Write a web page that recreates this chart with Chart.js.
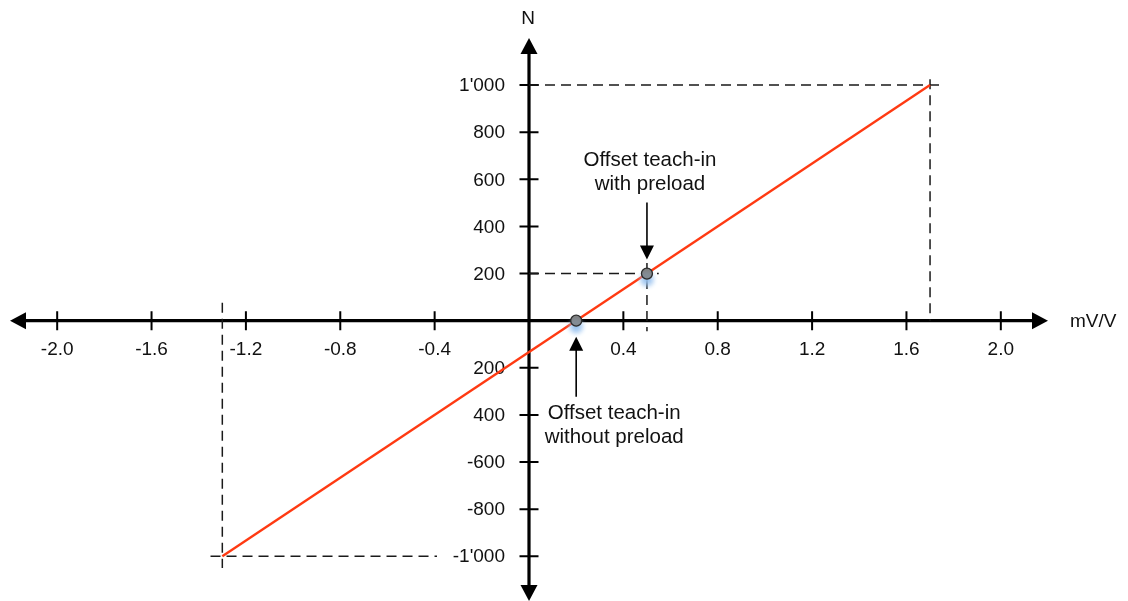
<!DOCTYPE html>
<html>
<head>
<meta charset="utf-8">
<title>Force calibration characteristic</title>
<script src="https://cdn.jsdelivr.net/npm/chart.js@4/dist/chart.umd.min.js"></script>
<style>
  html, body { margin: 0; padding: 0; background: #ffffff; overflow: hidden; }
  canvas { display: block; }
</style>
</head>
<body>
<canvas id="chart" width="1128" height="601"></canvas>
<script>
// Sensor characteristic: signal (mV/V) against force (N)
const characteristicX = [-1.3, 1.7];
const characteristicY = [-1000, 1000];

// Offset teach-in points: without preload, with preload
const teachInX = [0.2, 0.5];
const teachInY = [0, 200];

// Axis extents
const xAxisRange = [-2.2, 2.2];
const yAxisRange = [-1190, 1200];

// Tick values and their printed labels
const xTickValues = [-2.0, -1.6, -1.2, -0.8, -0.4, 0.4, 0.8, 1.2, 1.6, 2.0];
const xTickLabels = ['-2.0', '-1.6', '-1.2', '-0.8', '-0.4', '0.4', '0.8', '1.2', '1.6', '2.0'];
const yTickValues = [1000, 800, 600, 400, 200, -200, -400, -600, -800, -1000];
const yTickLabels = ["1'000", '800', '600', '400', '200', '200', '400', '-600', '-800', "-1'000"];

// Dashed reference lines (pairs of x and y)
const guideFullScalePosX = [0, 1.75];       const guideFullScalePosY = [1000, 1000];
const guideFullScalePosVX = [1.7, 1.7];     const guideFullScalePosVY = [1025, 0];
const guideFullScaleNegX = [-1.35, -0.39];  const guideFullScaleNegY = [-1000, -1000];
const guideFullScaleNegVX = [-1.3, -1.3];   const guideFullScaleNegVY = [76, -1050];
const guidePreloadX = [0, 0.55];            const guidePreloadY = [200, 200];
const guidePreloadVX = [0.5, 0.5];          const guidePreloadVY = [245, -45];

const xTitle = 'mV/V';
const yTitle = 'N';
const noteWithPreload = ['Offset teach-in', 'with preload'];
const noteWithoutPreload = ['Offset teach-in', 'without preload'];

const FONT = '"Liberation Sans", Arial, sans-serif';

function pts(xs, ys) { return xs.map((x, i) => ({ x: x, y: ys[i] })); }

function guide(xs, ys) {
  return {
    type: 'line',
    data: pts(xs, ys),
    borderColor: '#1a1a1a',
    borderWidth: 1.5,
    borderDash: [10, 6],
    pointRadius: 0,
    fill: false,
    order: 3
  };
}

function arrowHead(ctx, x, y, dir, len, half) {
  // dir: 'up' | 'down' | 'left' | 'right'; (x, y) is the tip
  ctx.beginPath();
  ctx.moveTo(x, y);
  if (dir === 'up') { ctx.lineTo(x - half, y + len); ctx.lineTo(x + half, y + len); }
  if (dir === 'down') { ctx.lineTo(x - half, y - len); ctx.lineTo(x + half, y - len); }
  if (dir === 'left') { ctx.lineTo(x + len, y - half); ctx.lineTo(x + len, y + half); }
  if (dir === 'right') { ctx.lineTo(x - len, y - half); ctx.lineTo(x - len, y + half); }
  ctx.closePath();
  ctx.fill();
}

// Cross-shaped axes through the origin, with ticks, labels and titles
const centreAxes = {
  id: 'centreAxes',
  beforeDatasetsDraw(chart) {
    const { ctx, scales: { x, y } } = chart;
    const ox = x.getPixelForValue(0);
    const oy = y.getPixelForValue(0);
    const xl = x.getPixelForValue(xAxisRange[0]);
    const xr = x.getPixelForValue(xAxisRange[1]);
    const yt = y.getPixelForValue(yAxisRange[1]);
    const yb = y.getPixelForValue(yAxisRange[0]);
    const headLen = 16, headHalf = 8.5;

    ctx.save();
    ctx.strokeStyle = '#000';
    ctx.fillStyle = '#000';
    ctx.lineWidth = 3.2;
    ctx.beginPath();
    ctx.moveTo(xl + headLen - 1, oy); ctx.lineTo(xr - headLen + 1, oy);
    ctx.moveTo(ox, yt + headLen - 1); ctx.lineTo(ox, yb - headLen + 1);
    ctx.stroke();
    arrowHead(ctx, xl, oy, 'left', headLen, headHalf);
    arrowHead(ctx, xr, oy, 'right', headLen, headHalf);
    arrowHead(ctx, ox, yt, 'up', headLen, headHalf);
    arrowHead(ctx, ox, yb, 'down', headLen, headHalf);

    // tick marks
    ctx.lineWidth = 2;
    ctx.beginPath();
    xTickValues.forEach(v => {
      const px = x.getPixelForValue(v);
      ctx.moveTo(px, oy - 9.5); ctx.lineTo(px, oy + 9.5);
    });
    yTickValues.forEach(v => {
      const py = y.getPixelForValue(v);
      ctx.moveTo(ox - 9.5, py); ctx.lineTo(ox + 9.5, py);
    });
    ctx.stroke();

    // tick labels
    ctx.fillStyle = '#111';
    ctx.font = '19px ' + FONT;
    ctx.textAlign = 'center';
    ctx.textBaseline = 'middle';
    xTickValues.forEach((v, i) => {
      ctx.fillText(xTickLabels[i], x.getPixelForValue(v), oy + 29);
    });
    ctx.textAlign = 'right';
    yTickValues.forEach((v, i) => {
      ctx.fillText(yTickLabels[i], ox - 24, y.getPixelForValue(v) + 1);
    });

    // axis titles
    ctx.textAlign = 'center';
    ctx.fillText(yTitle, ox - 1, yt - 19);
    ctx.textAlign = 'left';
    ctx.fillText(xTitle, xr + 22, oy + 1);
    ctx.restore();
  },
  afterDatasetsDraw(chart) {
    const { ctx, scales: { x, y } } = chart;
    ctx.save();
    ctx.strokeStyle = '#000';
    ctx.fillStyle = '#000';
    ctx.lineWidth = 1.6;

    // note pointing down at the teach-in point with preload
    const p1x = x.getPixelForValue(teachInX[1]);
    const p1y = y.getPixelForValue(teachInY[1]);
    ctx.beginPath();
    ctx.moveTo(p1x, p1y - 71); ctx.lineTo(p1x, p1y - 26);
    ctx.stroke();
    arrowHead(ctx, p1x, p1y - 14, 'down', 14, 7);

    // note pointing up at the teach-in point without preload
    const p0x = x.getPixelForValue(teachInX[0]);
    const p0y = y.getPixelForValue(teachInY[0]);
    ctx.beginPath();
    ctx.moveTo(p0x, p0y + 76); ctx.lineTo(p0x, p0y + 28);
    ctx.stroke();
    arrowHead(ctx, p0x, p0y + 16, 'up', 14, 7);

    ctx.fillStyle = '#111';
    ctx.font = '20.5px ' + FONT;
    ctx.textAlign = 'center';
    ctx.textBaseline = 'middle';
    ctx.fillText(noteWithPreload[0], p1x + 3, p1y - 113);
    ctx.fillText(noteWithPreload[1], p1x + 3, p1y - 89);
    ctx.fillText(noteWithoutPreload[0], p0x + 38, p0y + 93);
    ctx.fillText(noteWithoutPreload[1], p0x + 38, p0y + 117);
    ctx.restore();
  },
  beforeDatasetDraw(chart, args) {
    // soft bluish drop shadow under the teach-in markers
    if (args.meta.label === 'Offset teach-in') {
      const ctx = chart.ctx;
      ctx.save();
      ctx.shadowColor = 'rgba(150, 192, 238, 1)';
      ctx.shadowBlur = 5;
      ctx.shadowOffsetX = 0;
      ctx.shadowOffsetY = 6;
    }
  },
  afterDatasetDraw(chart, args) {
    if (args.meta.label === 'Offset teach-in') chart.ctx.restore();
  }
};

new Chart(document.getElementById('chart'), {
  type: 'scatter',
  data: {
    datasets: [
      guide(guideFullScalePosX, guideFullScalePosY),
      guide(guideFullScalePosVX, guideFullScalePosVY),
      guide(guideFullScaleNegX, guideFullScaleNegY),
      guide(guideFullScaleNegVX, guideFullScaleNegVY),
      guide(guidePreloadX, guidePreloadY),
      guide(guidePreloadVX, guidePreloadVY),
      {
        label: 'Characteristic',
        type: 'line',
        data: pts(characteristicX, characteristicY),
        borderColor: '#ff3a12',
        borderWidth: 2.4,
        pointRadius: 0,
        fill: false,
        order: 2
      },
      {
        label: 'Offset teach-in',
        type: 'scatter',
        data: pts(teachInX, teachInY),
        backgroundColor: '#7f7f7f',
        borderColor: '#2b2b2b',
        borderWidth: 1.3,
        pointRadius: 5.5,
        order: 1
      }
    ]
  },
  options: {
    responsive: false,
    animation: false,
    devicePixelRatio: 1,
    layout: { autoPadding: false, padding: { left: 10, right: 80, top: 38, bottom: 0 } },
    scales: {
      x: { type: 'linear', min: xAxisRange[0], max: xAxisRange[1], display: false },
      y: { type: 'linear', min: yAxisRange[0], max: yAxisRange[1], display: false }
    },
    plugins: {
      legend: { display: false },
      tooltip: { enabled: false }
    },
    datasets: { line: { clip: false }, scatter: { clip: false } }
  },
  plugins: [centreAxes]
});
</script>
</body>
</html>
